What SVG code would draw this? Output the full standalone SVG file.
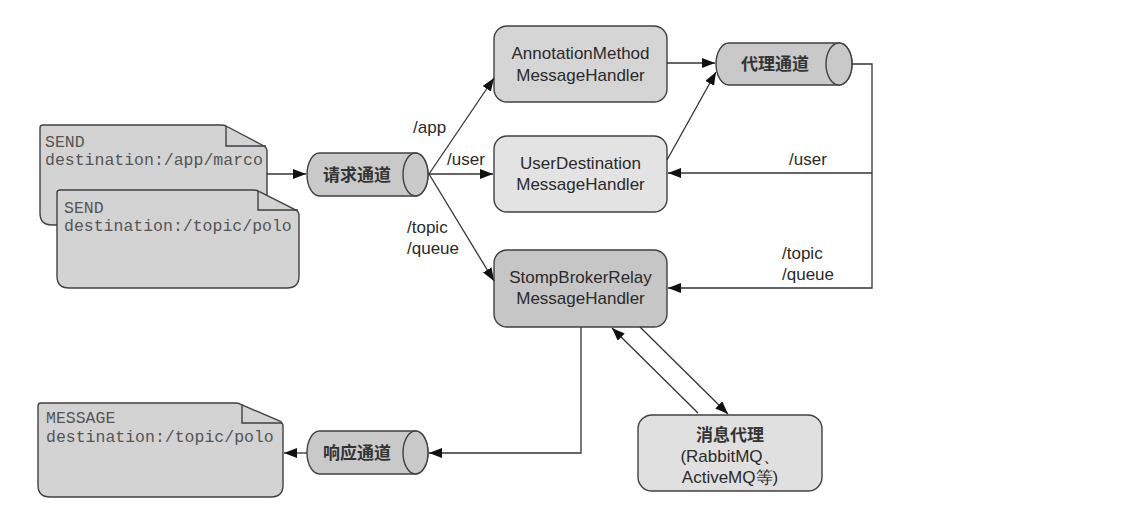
<svg xmlns="http://www.w3.org/2000/svg" width="1129" height="521" viewBox="0 0 1129 521">
<style>
.box{stroke:#404040;stroke-width:1.4}
.doc{fill:#d3d3d3;stroke:#404040;stroke-width:1.4}
.fold{fill:none;stroke:#404040;stroke-width:1.4}
.cyl{fill:#c9c9c9;stroke:#404040;stroke-width:1.4}
.t{font-family:"Liberation Sans",Arial,sans-serif;font-size:17px;fill:#2a2a2a;text-anchor:middle}
.lbl{font-family:"Liberation Sans",Arial,sans-serif;font-size:17px;fill:#2a2a2a}
.mono{font-family:"Liberation Mono","Courier New",monospace;font-size:16.5px;fill:#555}
.cn{font-family:"Noto Sans CJK SC",sans-serif;font-size:17px;font-weight:bold;fill:#333;text-anchor:middle}
.c{fill:none;stroke:#333;stroke-width:1.3}
</style>
<defs>
<marker id="ah" markerUnits="userSpaceOnUse" markerWidth="14" markerHeight="10" refX="13" refY="5" orient="auto">
<path d="M0,0 L13,5 L0,10 Z" fill="#111"/>
</marker>
</defs>
<rect width="1129" height="521" fill="#fff"/>

<g id="doc-send-app">
<path class="doc" d="M43,125 H222 Q225,125 228,127 L264,146 Q267,148 267,151 V213 Q267,225 255,225 H52 Q40,225 40,213 V128 Q40,125 43,125 Z"/>
<path class="fold" d="M226,126 V146 H266"/>
<text class="mono" x="45" y="147">SEND</text>
<text class="mono" x="45" y="165">destination:/app/marco</text>
</g>

<g id="doc-send-topic">
<path class="doc" d="M60,190 H254 Q257,190 260,192 L296,210 Q299,212 299,215 V276 Q299,288 287,288 H69 Q57,288 57,276 V193 Q57,190 60,190 Z"/>
<path class="fold" d="M258,191 V210 H298"/>
<text class="mono" x="64" y="213">SEND</text>
<text class="mono" x="64" y="231">destination:/topic/polo</text>
</g>

<g id="doc-message">
<path class="doc" d="M41,403 H236 Q239,403 242,405 L280,421 Q283,423 283,426 V485 Q283,497 271,497 H50 Q38,497 38,485 V406 Q38,403 41,403 Z"/>
<path class="fold" d="M242,404 V423 H282"/>
<text class="mono" x="46" y="423">MESSAGE</text>
<text class="mono" x="46" y="442">destination:/topic/polo</text>
</g>

<g id="req-channel">
<path class="cyl" d="M319.5,153 H415.5 A12.5,21.5 0 0 1 415.5,196 H319.5 A12.5,21.5 0 0 1 319.5,153 Z"/>
<ellipse class="cyl" cx="415.5" cy="174.5" rx="12.5" ry="21.5"/>
<text class="cn" x="357" y="180.5">请求通道</text>
</g>

<g id="broker-channel">
<path class="cyl" d="M729,43 H839 A13,21 0 0 1 839,85 H729 A13,21 0 0 1 729,43 Z"/>
<ellipse class="cyl" cx="839" cy="64" rx="13" ry="21"/>
<text class="cn" x="775" y="70">代理通道</text>
</g>

<g id="resp-channel">
<path class="cyl" d="M319.5,431 H415.5 A12.5,21.5 0 0 1 415.5,474 H319.5 A12.5,21.5 0 0 1 319.5,431 Z"/>
<ellipse class="cyl" cx="415.5" cy="452.5" rx="12.5" ry="21.5"/>
<text class="cn" x="357" y="458.5">响应通道</text>
</g>

<g id="annotation-handler">
<rect class="box" x="494" y="26" width="173" height="76" rx="13" fill="#d5d5d5"/>
<text class="t" x="580.5" y="59">AnnotationMethod</text>
<text class="t" x="580.5" y="81">MessageHandler</text>
</g>

<g id="user-handler">
<rect class="box" x="494" y="136" width="173" height="76" rx="13" fill="#e3e3e3"/>
<text class="t" x="580.5" y="169">UserDestination</text>
<text class="t" x="580.5" y="190">MessageHandler</text>
</g>

<g id="stomp-handler">
<rect class="box" x="494" y="250" width="173" height="77" rx="13" fill="#c6c6c6"/>
<text class="t" x="580.5" y="283">StompBrokerRelay</text>
<text class="t" x="580.5" y="304">MessageHandler</text>
</g>

<g id="message-broker">
<rect class="box" x="638" y="415" width="184" height="76" rx="14" fill="#e0e0e0"/>
<text class="cn" x="730" y="441" style="font-weight:bold">消息代理</text>
<text class="t" x="730" y="462">(RabbitMQ、</text>
<text class="t" x="730" y="483">ActiveMQ等)</text>
</g>

<g id="connectors">
<path class="c" d="M267,174 H306" marker-end="url(#ah)"/>
<path class="c" d="M429,174 L494,78" marker-end="url(#ah)"/>
<path class="c" d="M429,174 H493" marker-end="url(#ah)"/>
<path class="c" d="M429,174 L494,281" marker-end="url(#ah)"/>
<path class="c" d="M667,63 H715" marker-end="url(#ah)"/>
<path class="c" d="M667,160 L716,72" marker-end="url(#ah)"/>
<path class="c" d="M852,64 H872 V288 H668" marker-end="url(#ah)"/>
<path class="c" d="M872,173 H668" marker-end="url(#ah)"/>
<path class="c" d="M581,327 V453 H429" marker-end="url(#ah)"/>
<path class="c" d="M307,453 H284" marker-end="url(#ah)"/>
<path class="c" d="M698,413 L612,328" marker-end="url(#ah)"/>
<path class="c" d="M640,327 L728,414" marker-end="url(#ah)"/>
<text class="lbl" x="413" y="133">/app</text>
<text class="lbl" x="447" y="165">/user</text>
<text class="lbl" x="407" y="233">/topic</text>
<text class="lbl" x="407" y="254">/queue</text>
<text class="lbl" x="789" y="165">/user</text>
<text class="lbl" x="782" y="259">/topic</text>
<text class="lbl" x="782" y="280">/queue</text>
</g>
</svg>
